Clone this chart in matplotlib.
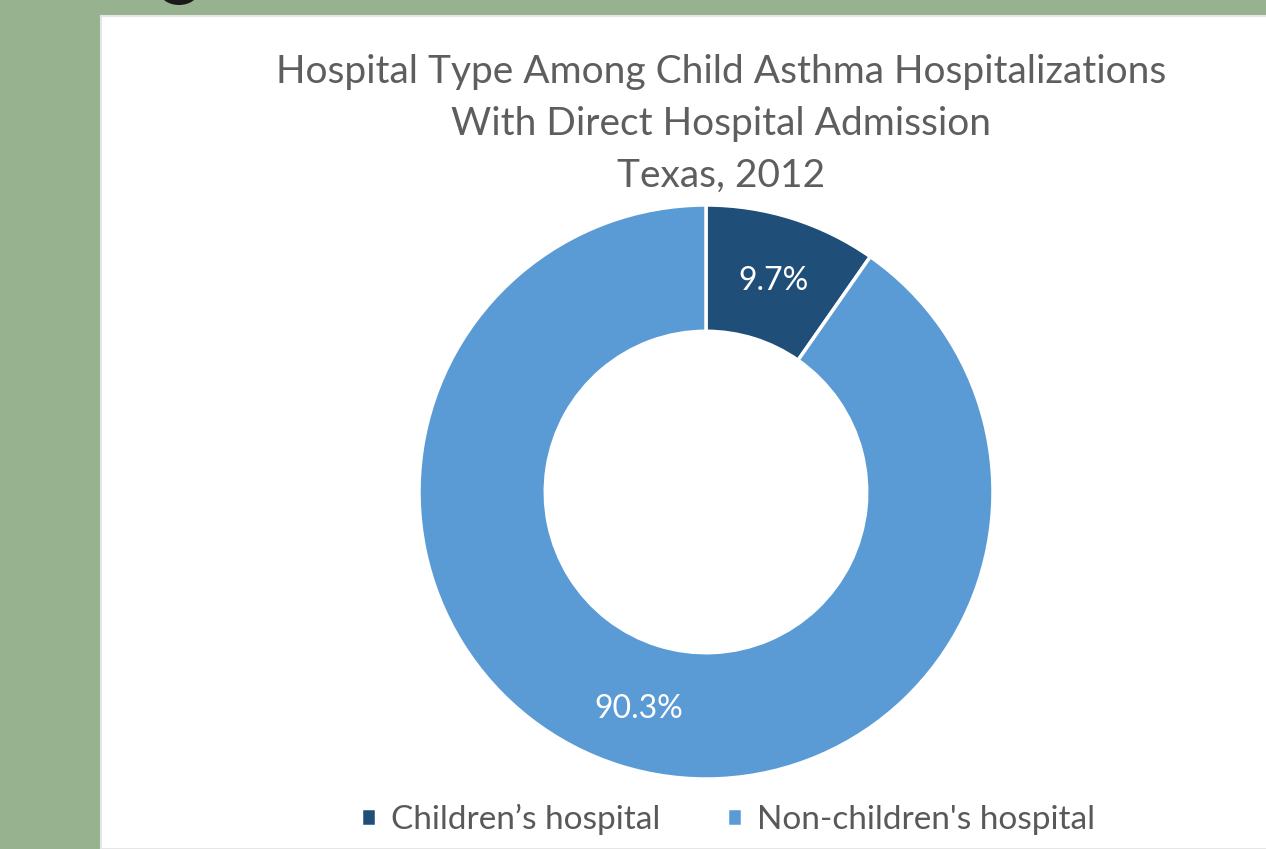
import matplotlib.pyplot as plt
from matplotlib.patches import Rectangle, Ellipse

# hospital type shares, direct admissions, Texas 2012
labels = ['Children\u2019s hospital', "Non-children's hospital"]
shares = [9.7, 90.3]
colors = ['#1F4E79', '#5B9BD5']
title_lines = ['Hospital Type Among Child Asthma Hospitalizations',
               'With Direct Hospital Admission',
               'Texas, 2012']

plt.rcParams['font.family'] = ['Lato', 'DejaVu Sans']

W, H = 1266, 849
fig = plt.figure(figsize=(W / 100, H / 100), dpi=100, facecolor='#97B28E')

# white slide panel on the green background
fig.patches.append(Rectangle((101 / W, 0), 1, (H - 16) / H, transform=fig.transFigure,
                             facecolor='white', edgecolor='#E6E6E6', linewidth=1.5, zorder=-5))
# dark blob peeking in at the top edge
fig.patches.append(Ellipse((179 / W, 1 + 8 / H), 38 / W, 26 / H, transform=fig.transFigure,
                           facecolor='#1A1A1A', edgecolor='none', zorder=-4))

# donut
cx, cy, r_out = 706, 492, 287
ax = fig.add_axes([(cx - 300) / W, (H - cy - 300) / H, 600 / W, 600 / H])
ax.set_zorder(2)
radius = r_out / 300
wedges, texts, autotexts = ax.pie(
    shares, colors=colors, startangle=90, counterclock=False, radius=radius,
    autopct='%.1f%%', pctdistance=0.78,
    wedgeprops=dict(width=radius * 0.44, edgecolor='white', linewidth=2.5),
    textprops=dict(color='white', fontsize=23))
for t in autotexts:
    t.set_va('center_baseline')
ax.set_xlim(-1, 1)
ax.set_ylim(-1, 1)
ax.set_aspect('equal')
ax.axis('off')

# title, three centred lines
for i, line in enumerate(title_lines):
    fig.text(721 / W, 1 - (72 + i * 52) / H, line, ha='center', va='center',
             fontsize=28, color='#5E5E5E')

# legend below the donut
fig.legend(wedges, labels, loc='center', bbox_to_anchor=(728 / W, 1 - 819 / H),
           ncol=2, frameon=False, fontsize=24, labelcolor='#595959',
           handlelength=0.45, handleheight=0.45, handletextpad=0.45, columnspacing=2.0)

fig.savefig('out.png', dpi=100, facecolor=fig.get_facecolor())
